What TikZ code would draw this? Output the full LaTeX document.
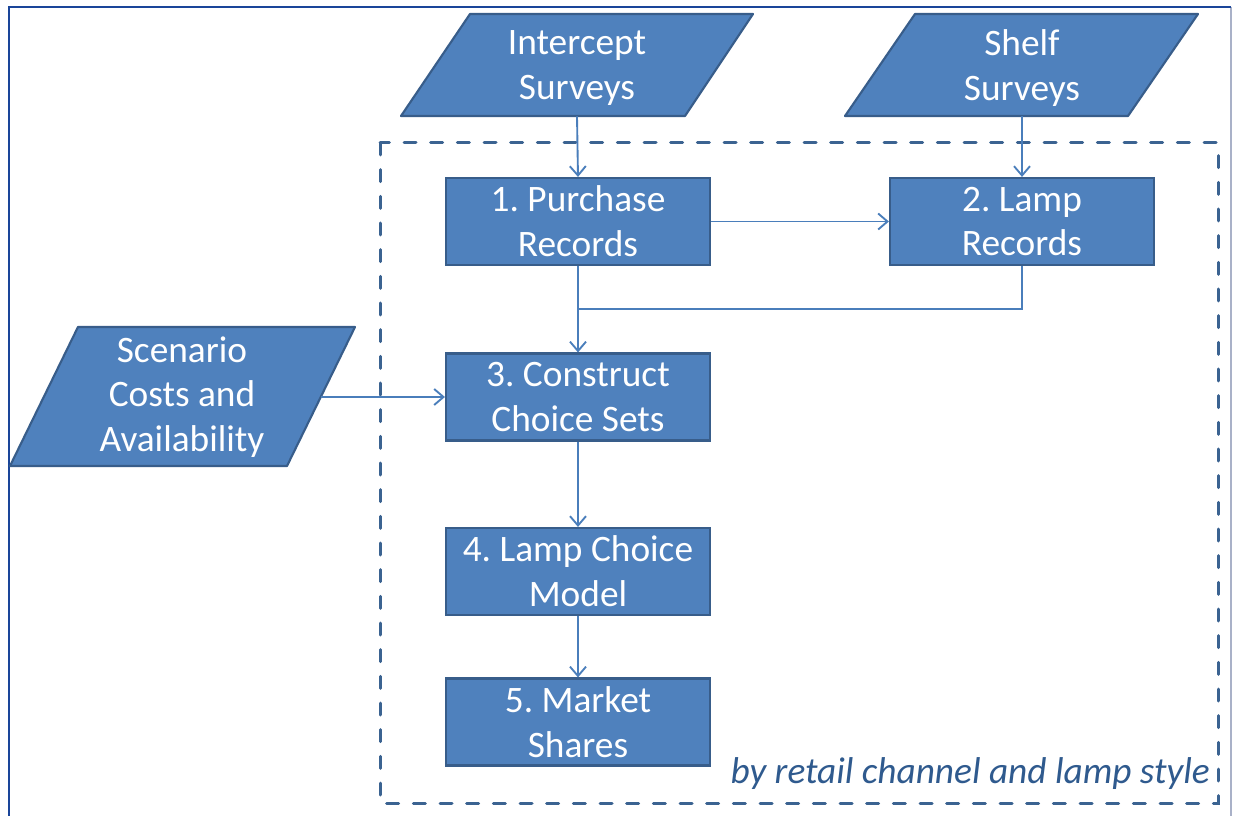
\documentclass[tikz,border=0pt]{standalone}
\usepackage{fontspec}
\setmainfont{Carlito}
\usetikzlibrary{arrows.meta}
\definecolor{fillblue}{HTML}{4F81BD}
\definecolor{edgeblue}{HTML}{385D8A}
\definecolor{arrowblue}{HTML}{4A7EBB}
\definecolor{dashblue}{HTML}{3B6391}
\definecolor{framedark}{HTML}{1A4599}
\definecolor{frameright}{HTML}{A9B1C8}
\definecolor{labelblue}{HTML}{2F5A8E}
\frenchspacing
\begin{document}
\begin{tikzpicture}[x=0.75pt,y=-0.75pt,
  txt/.style={font=\fontsize{28}{33.6}\selectfont, text=white, align=center},
  procbox/.style={txt, draw=edgeblue, fill=fillblue, line width=1.6pt,
    minimum width=198pt, minimum height=65.25pt, inner sep=0pt},
  para/.style={draw=edgeblue, fill=fillblue, line width=1.6pt, line join=round},
  paratext/.style={txt, draw=none, inner sep=0pt},
  conn/.style={draw=arrowblue, line width=1.4pt},
  arr/.style={conn, -{Straight Barb[length=7pt,width=12pt,line width=1.4pt]}},
  region/.style={draw=dashblue, line width=2.25pt, dash pattern=on 9pt off 11pt, line cap=round}
]
% canvas
\fill[white] (0,0) rectangle (1235,816);
\useasboundingbox (0,0) rectangle (1235,816);
% frame
\draw[frameright, line width=0.8pt] (1231,7) -- (1231,816);
\draw[framedark, line width=2pt] (9,816) -- (9,7) -- (1231,7);

% dashed region
\draw[region] (380,143) rectangle (1218,803);
\node[font=\fontsize{28}{32}\selectfont\itshape, text=labelblue, anchor=east, inner sep=0pt] (note) at (1210,774) {by retail channel and lamp style};

% input parallelograms
\draw[para] (470,14) -- (753,14) -- (685,116) -- (401,116) -- cycle;
\node[paratext, minimum width=160pt, minimum height=72pt] (intercept) at (577,68) {Intercept\\Surveys};
\draw[para] (915,14) -- (1198,14) -- (1128,116) -- (845,116) -- cycle;
\node[paratext, minimum width=160pt, minimum height=72pt] (shelf) at (1022,68) {Shelf\\Surveys};
\draw[para] (78,327) -- (355,327) -- (287,466) -- (10,466) -- cycle;
\node[paratext, minimum width=208.5pt, minimum height=104.25pt] (scen) at (182,397) {Scenario\\Costs and\\Availability};

% process boxes
\node[procbox] (b1) at (578,221.5) {1. Purchase\\Records};
\node[procbox] (b2) at (1022,221.5) {2. Lamp\\Records};
\node[procbox] (b3) at (578,397) {3. Construct\\Choice Sets};
\node[procbox] (b4) at (578,571.5) {4. Lamp Choice\\Model};
\node[procbox] (b5) at (578,722) {5. Market\\Shares};

% connectors
\draw[arr] (intercept.south) -- (b1.north);
\draw[arr] (shelf.south) -- (b2.north);
\draw[arr] (b1.east) -- (b2.west);
\draw[arr] (b1.south) -- (b3.north);
\draw[conn] (b2.south) |- (b1.south |- 0,309);
\draw[arr] (scen.east) -- (b3.west);
\draw[arr] (b3.south) -- (b4.north);
\draw[arr] (b4.south) -- (b5.north);
\end{tikzpicture}
\end{document}
